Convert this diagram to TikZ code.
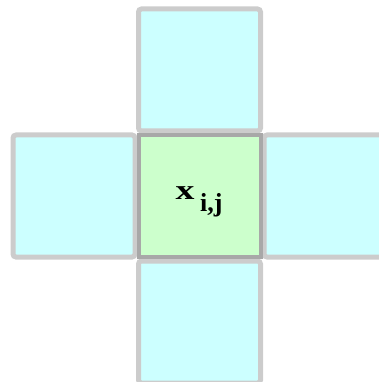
\documentclass[tikz,border=0pt]{standalone}
\usepackage{fontspec}
\setmainfont{Liberation Serif}
\definecolor{cellcyan}{HTML}{CCFFFF}
\definecolor{cellgreen}{HTML}{CCFFCC}
\definecolor{cellborder}{HTML}{CCCCCC}
\definecolor{centerborder}{HTML}{A8A8A8}
\begin{document}
\begin{tikzpicture}[x=1pt,y=-1pt,
  cell/.style={draw=cellborder,line width=5pt,rounded corners=3pt,fill=cellcyan},
  centercell/.style={draw=centerborder,line width=4pt,fill=cellgreen}]
\useasboundingbox (0,0) rectangle (379,382);
\clip (0,0) rectangle (379,382);
% neighbours
\path[cell] (138.5,9) rectangle (260.5,131) node[pos=0.5] (top) {};
\path[cell] (13,135) rectangle (135,257) node[pos=0.5] (left) {};
\path[cell] (264,135) rectangle (386,257) node[pos=0.5] (right) {};
\path[cell] (138.5,261) rectangle (260.5,383) node[pos=0.5] (bottom) {};
% centre
\path[centercell] (138.5,135) rectangle (260.5,257);
\node[font=\bfseries\fontsize{28}{30}\selectfont,inner sep=0pt,anchor=base west] (xij) at (175.5,199)
  {\scalebox{1.35}[1]{x}\hspace{5.5pt}\raisebox{-12pt}{\fontsize{26}{28}\selectfont i,j}};
\end{tikzpicture}
\end{document}
